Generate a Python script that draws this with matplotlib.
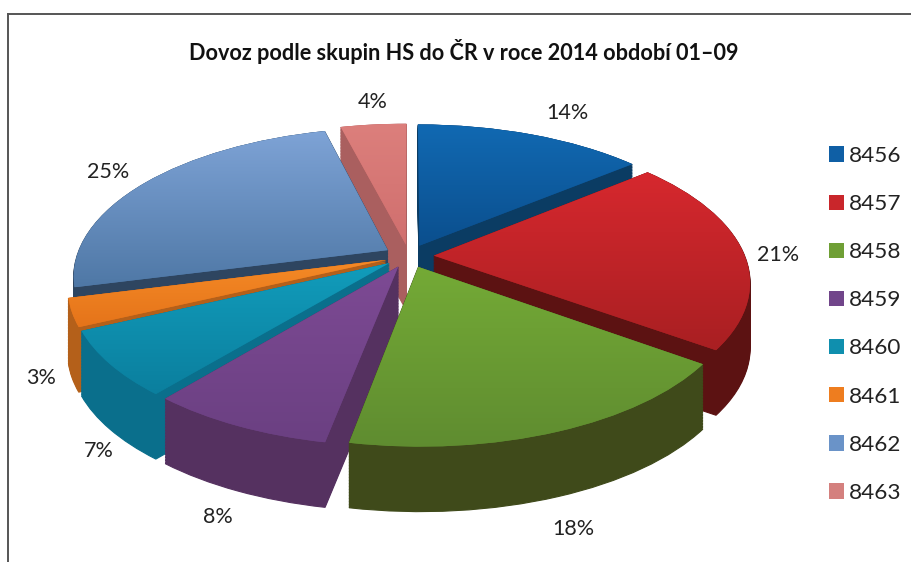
# -*- coding: utf-8 -*-
"""Dovoz podle skupin HS - exploded pie faked in 3D with stacked pie layers."""
import matplotlib.pyplot as plt
import numpy as np
from matplotlib.colors import to_rgb
from matplotlib.lines import Line2D
from matplotlib.patches import Patch
from matplotlib.transforms import Transform

plt.rcParams["font.family"] = ["Lato", "DejaVu Sans"]

title = "Dovoz podle skupin HS do ČR v roce 2014 období 01–09"
groups = ["8456", "8457", "8458", "8459", "8460", "8461", "8462", "8463"]
shares = [14, 21, 18, 8, 7, 3, 25, 4]

top_light = ["#1169b2", "#d6282e", "#74aa36", "#7d4a94", "#119cbb", "#f58a26", "#7ea3d6", "#dc7f7c"]
top_dark = ["#0b4f8e", "#a91f22", "#5f8c30", "#6b4082", "#0b7f9e", "#e5741a", "#4f78a6", "#d06f6e"]
wall = ["#0b3c63", "#5c1212", "#3f4a1a", "#553160", "#0a6f8c", "#b4601a", "#2e4560", "#aa5f5f"]
legend_colors = ["#0f5fa5", "#c9262b", "#6f9f35", "#71458a", "#0f8fae", "#ee7d1f", "#6a93c8", "#d4807e"]
wedge_z = [1, 6, 8, 7, 5, 4, 3, 2]  # back to front

label_text = ["14%", "21%", "18%", "8%", "7%", "3%", "25%", "4%"]
label_x = [567, 778, 573, 218, 99, 41, 108, 373]
label_y = [113, 255, 529, 517, 451, 378, 172, 102]

CX, CY = 409, 256
SX, SY = 311, 145
K = 0.17
DEPTH = 65


class Persp(Transform):
    """Tilted unit pie -> image pixels, moved down by drop for the lower layers."""
    input_dims = 2
    output_dims = 2
    is_separable = False

    def __init__(self, drop=0):
        super().__init__()
        self.drop = drop

    def transform_non_affine(self, values):
        values = np.asarray(values, dtype=float)
        s = 1 / (1 + K * values[:, 1])
        return np.column_stack([CX + SX * values[:, 0] * s,
                                CY - SY * values[:, 1] * s + self.drop])


fig = plt.figure(figsize=(9.12, 5.62), dpi=100)
ax = fig.add_axes([0, 0, 1, 1])
explode = [0.08] * len(shares)

# side walls: the same pie again and again from the bottom up
for drop in np.arange(DEPTH, 0, -1.5):
    wedges, _ = ax.pie(shares, explode=explode, colors=wall, startangle=90,
                       counterclock=False, wedgeprops={"linewidth": 0.8})
    for w, c, z in zip(wedges, wall, wedge_z):
        w.set_edgecolor(c)
        w.set_transform(Persp(drop) + ax.transData)
        w.set_zorder(z)

# top faces with a vertical gradient
wedges, _ = ax.pie(shares, explode=explode, colors=top_dark, startangle=90,
                   counterclock=False, wedgeprops={"linewidth": 0})
for w, c1, c2, z in zip(wedges, top_light, top_dark, wedge_z):
    w.set_transform(Persp(0) + ax.transData)
    w.set_zorder(z + 0.1)
    ys = Persp(0).transform(w.get_path().vertices)[:, 1]
    grad = np.linspace(to_rgb(c1), to_rgb(c2), 64)[:, None, :]
    im = ax.imshow(grad, extent=(0, 912, ys.max(), ys.min()), aspect="auto",
                   interpolation="bilinear", zorder=z + 0.2)
    im.set_clip_path(w)

for t, x, y in zip(label_text, label_x, label_y):
    ax.text(x, y, t, fontsize=15.5, color="#222222", ha="center", va="center", zorder=20)

ax.text(464, 51, title, fontsize=15.6, fontweight="bold", color="#111111",
        ha="center", va="center", zorder=20)

# frame: only top and left are there in the scan
ax.add_line(Line2D([8, 912], [14, 14], color="#555555", lw=1.4, zorder=20))
ax.add_line(Line2D([8, 8], [14, 562], color="#555555", lw=1.4, zorder=20))

handles = [Patch(facecolor=c) for c in legend_colors]
fig.legend(handles, groups, loc="upper left", bbox_to_anchor=(829 / 912, 1 - 146 / 562),
           frameon=False, fontsize=16.2, handlelength=0.68, handleheight=0.68,
           handletextpad=0.2, labelspacing=1.25, borderpad=0, borderaxespad=0,
           labelcolor="#222222")

ax.set_xlim(0, 912)
ax.set_ylim(562, 0)
ax.set_aspect("auto")
ax.axis("off")
fig.savefig("out.png", dpi=100, facecolor="white")
